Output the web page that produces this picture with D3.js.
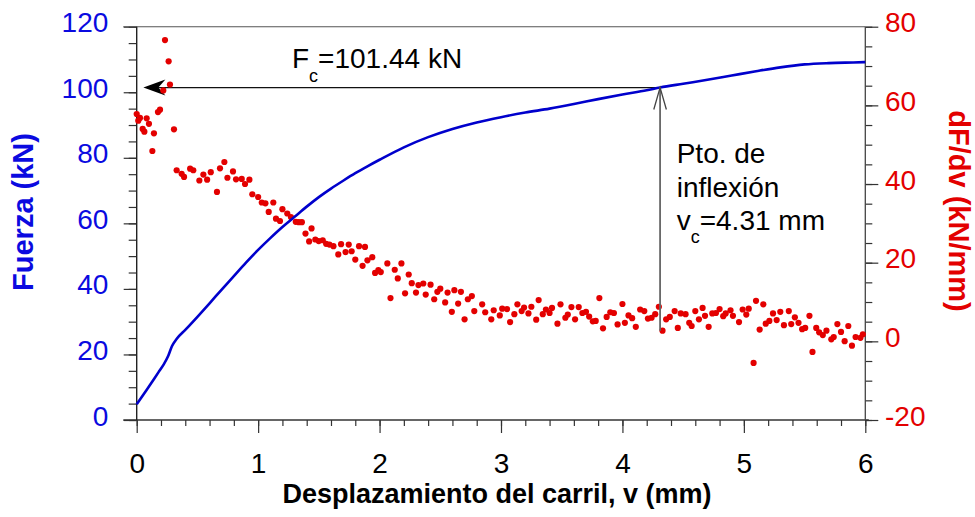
<!DOCTYPE html>
<html><head><meta charset="utf-8">
<script src="https://cdn.jsdelivr.net/npm/d3@7"></script>
<style>body{margin:0;background:#fff} text{font-family:"Liberation Sans",Arial,Helvetica,sans-serif}</style>
</head><body>
<svg id="c" width="975" height="517"></svg>
<script>
// ---- data ----
const forceX = [0,0.08,0.18,0.22,0.26,0.29,0.33,0.40,0.50,0.60,0.70,0.80,0.90,1.0,1.1,1.2,1.3,1.4,1.5,1.6,1.7,1.8,1.9,2.0,2.2,2.4,2.6,2.8,3.0,3.2,3.4,3.6,3.8,4.0,4.2,4.31,4.5,4.7,4.9,5.1,5.3,5.5,5.7,5.9,6.0];
const forceY = [4.8,9.1,14.6,16.8,19.6,22.5,24.8,27.5,31.5,35.6,39.8,43.9,48.0,51.9,55.5,58.9,62.0,65.1,68.0,70.6,73.0,75.3,77.4,79.4,83.2,86.3,88.8,90.8,92.4,93.8,95.0,96.4,97.9,99.3,100.6,101.44,102.6,103.8,105.1,106.4,107.6,108.5,108.9,109.1,109.2];

const derivX = [0.0,0.013,0.027,0.049,0.063,0.082,0.101,0.129,0.142,0.175,0.192,0.219,0.233,0.263,0.274,0.307,0.329,0.37,0.39,0.44,0.466,0.516,0.549,0.58,0.61,0.661,0.686,0.722,0.747,0.793,0.818,0.865,0.892,0.928,0.952,1.0,1.03,1.06,1.087,1.125,1.147,1.18,1.20,1.24,1.27,1.31,1.335,1.36,1.39,1.42,1.44,1.471,1.499,1.532,1.56,1.587,1.62,1.66,1.683,1.72,1.746,1.77,1.80,1.831,1.86,1.88,1.90,1.94,1.963,1.99,2.01,2.064,2.09,2.125,2.15,2.18,2.21,2.24,2.265,2.30,2.32,2.36,2.38,2.42,2.45,2.476,2.50,2.54,2.56,2.595,2.616,2.647,2.67,2.70,2.727,2.76,2.78,2.845,2.87,2.92,2.94,2.99,3.01,3.05,3.075,3.11,3.135,3.17,3.19,3.226,3.25,3.29,3.31,3.344,3.37,3.40,3.42,3.465,3.49,3.53,3.55,3.58,3.61,3.64,3.67,3.70,3.726,3.756,3.78,3.81,3.84,3.87,3.90,3.93,3.96,4.0,4.02,4.05,4.08,4.11,4.146,4.18,4.21,4.24,4.27,4.30,4.33,4.36,4.39,4.43,4.456,4.48,4.52,4.55,4.57,4.60,4.63,4.66,4.68,4.71,4.74,4.77,4.80,4.83,4.85,4.89,4.91,4.96,4.99,5.02,5.04,5.08,5.10,5.13,5.16,5.18,5.21,5.24,5.27,5.30,5.33,5.37,5.39,5.42,5.45,5.48,5.505,5.54,5.565,5.596,5.62,5.65,5.68,5.72,5.74,5.77,5.80,5.83,5.86,5.89,5.92,5.96,5.98];
const derivY = [57.8,56.1,56.8,54.0,53.3,56.7,55.3,48.4,52.9,58.3,58.9,63.8,76.6,71.2,65.3,53.9,43.5,42.6,41.8,43.9,43.5,40.9,42.4,41.1,43.0,38.0,44.0,45.6,41.6,43.2,41.2,41.3,40.0,41.1,37.4,36.7,35.3,35.1,32.9,35.3,31.2,30.6,33.6,32.5,31.6,30.4,30.3,30.3,27.4,25.4,28.7,25.9,25.5,25.7,24.8,24.6,24.2,22.1,24.7,22.7,24.6,22.9,20.8,24.2,19.2,24.0,20.6,21.4,17.4,18.1,17.6,19.8,11.0,18.2,16.0,19.8,12.2,17.0,14.8,12.4,14.3,14.7,11.9,14.4,10.7,12.6,13.4,9.9,12.4,7.5,13.0,9.6,12.6,5.6,10.7,11.5,7.7,9.4,7.4,5.6,7.9,6.6,8.3,8.2,4.9,6.9,9.4,7.7,8.6,7.1,8.8,5.5,10.5,6.9,8.1,7.2,8.5,4.5,9.4,6.0,6.8,8.7,5.6,8.7,7.2,7.5,6.3,5.1,5.2,11.0,3.3,6.2,7.4,7.2,4.3,9.5,4.7,6.6,5.9,3.7,8.1,7.7,5.8,6.0,6.9,8.8,2.7,5.6,6.2,7.7,3.4,7.1,6.9,4.7,3.9,7.7,5.6,8.5,6.5,3.7,7.1,7.2,8.2,6.4,7.1,7.9,6.5,4.9,8.1,6.8,8.3,-5.5,10.3,3.0,9.4,4.5,5.2,7.1,5.4,7.5,4.1,7.7,4.4,6.1,4.7,3.1,3.4,6.5,-2.7,3.4,2.3,1.6,2.7,0.5,1.1,4.4,2.4,0.05,3.9,-1.1,1.1,0.9,1.8];

const xTicks = [0,1,2,3,4,5,6];
const leftTicks = [0,20,40,60,80,100,120];
const rightTicks = [-20,0,20,40,60,80];
const xLabel = "Desplazamiento del carril, v (mm)";
const leftLabel = "Fuerza (kN)";
const rightLabel = "dF/dv (kN/mm)";
const Fc = 101.44, vc = 4.31, arrowTipX = 0.055, vertBottom = 2.7;

// ---- layout ----
const L = 136.7, R = 865.3, T = 26.7, B = 420;
const BLUE = "#0000cc", BLUE_T = "#0a0ae0", RED = "#e30000";
const FONT = '"Liberation Sans",Arial,sans-serif';
const svg = d3.select("#c");
const x = d3.scaleLinear().domain([0,6]).range([L,R]);
const yL = d3.scaleLinear().domain([0,120]).range([B,T]);
const yR = d3.scaleLinear().domain([-20,80]).range([B,T]);
const plain = d => String(d);

function styleAxis(g){ g.select(".domain").remove(); g.selectAll("line").attr("stroke","#333").attr("stroke-width",1.2); }

// minor ticks
svg.append("g").attr("transform",`translate(0,${B})`)
  .call(d3.axisBottom(x).tickValues(d3.range(0,6.01,0.2)).tickSize(6).tickFormat(""))
  .call(styleAxis);
svg.append("g").attr("transform",`translate(${L},0)`)
  .call(d3.axisLeft(yL).tickValues(d3.range(0,120.1,5)).tickSize(8).tickFormat(""))
  .call(styleAxis);
svg.append("g").attr("transform",`translate(${R},0)`)
  .call(d3.axisRight(yR).tickValues(d3.range(-20,80.1,5)).tickSize(7).tickFormat(""))
  .call(styleAxis);

// major ticks
const gx = svg.append("g").attr("transform",`translate(0,${B})`)
  .call(d3.axisBottom(x).tickValues(xTicks).tickSize(13).tickPadding(20).tickFormat(plain))
  .call(styleAxis);
gx.selectAll("text").attr("font-size",28).attr("fill","#000").style("font-family",FONT);

const gl = svg.append("g").attr("transform",`translate(${L},0)`)
  .call(d3.axisLeft(yL).tickValues(leftTicks).tickSize(13).tickPadding(15.4).tickFormat(plain))
  .call(styleAxis);
gl.selectAll("text").attr("font-size",28).attr("fill",BLUE_T).attr("dy","0.18em").style("font-family",FONT);

const gr = svg.append("g").attr("transform",`translate(${R},0)`)
  .call(d3.axisRight(yR).tickValues(rightTicks).tickSize(13).tickPadding(6.7).tickFormat(plain))
  .call(styleAxis);
gr.selectAll("text").attr("font-size",28).attr("fill",RED).attr("dy","0.18em").style("font-family",FONT);

// frame lines
svg.append("line").attr("x1",L-13.4).attr("x2",R).attr("y1",T).attr("y2",T).attr("stroke","#555").attr("stroke-width",1.1);
svg.append("line").attr("x1",L-13.4).attr("x2",R+3.5).attr("y1",B).attr("y2",B).attr("stroke","#333").attr("stroke-width",1.3);
svg.append("line").attr("x1",L).attr("x2",L).attr("y1",T).attr("y2",B).attr("stroke","#222").attr("stroke-width",1.4);
svg.append("line").attr("x1",R).attr("x2",R).attr("y1",T).attr("y2",B).attr("stroke","#444").attr("stroke-width",1.3);

// horizontal arrow
const hy = yL(Fc), tipX = x(arrowTipX);
svg.append("line").attr("x1",tipX+12).attr("x2",x(vc)).attr("y1",hy).attr("y2",hy).attr("stroke","#111").attr("stroke-width",1.3);
svg.append("path").attr("d",`M${tipX},${hy} L${tipX+22},${hy-8} L${tipX+15},${hy} L${tipX+22},${hy+8} Z`).attr("fill","#000");

// dots
svg.append("g").selectAll("circle").data(derivX.map((d,i)=>[d,derivY[i]])).join("circle")
  .attr("cx",d=>x(d[0])).attr("cy",d=>yR(d[1])).attr("r",3.1).attr("fill",RED);

// blue curve
svg.append("path").datum(forceX.map((d,i)=>[d,forceY[i]]))
  .attr("d",d3.line().x(d=>x(d[0])).y(d=>yL(d[1])).curve(d3.curveMonotoneX))
  .attr("fill","none").attr("stroke",BLUE).attr("stroke-width",2.6);

// vertical arrow
const vx = x(vc);
svg.append("line").attr("x1",vx).attr("x2",vx).attr("y1",hy).attr("y2",yR(vertBottom)).attr("stroke","#666").attr("stroke-width",1.8);
svg.append("path").attr("d",`M${vx-6.3},${hy+22} L${vx},${hy} L${vx+6.3},${hy+22}`).attr("fill","none").attr("stroke","#444").attr("stroke-width",1.3);

// annotations
const t1 = svg.append("text").attr("x",292).attr("y",68).attr("font-size",28).attr("fill","#000");
t1.append("tspan").text("F");
t1.append("tspan").attr("font-size",18).attr("dy",14).text("c");
t1.append("tspan").attr("dy",-14).text("=101.44 kN");

const ax = 676.7;
svg.append("text").attr("x",ax).attr("y",163).attr("font-size",28).attr("fill","#000").text("Pto. de");
svg.append("text").attr("x",ax).attr("y",197).attr("font-size",28).attr("fill","#000").text("inflexión");
const t2 = svg.append("text").attr("x",ax).attr("y",230).attr("font-size",28).attr("fill","#000");
t2.append("tspan").text("v");
t2.append("tspan").attr("font-size",18).attr("dy",13).text("c");
t2.append("tspan").attr("dy",-13).text("=4.31 mm");

// axis titles
svg.append("text").attr("x",497).attr("y",503).attr("text-anchor","middle").attr("font-size",27).attr("font-weight","bold").attr("fill","#000").text(xLabel);
svg.append("text").attr("transform","translate(33,212) rotate(-90)").attr("text-anchor","middle").attr("font-size",29).attr("font-weight","bold").attr("fill",BLUE_T).text(leftLabel);
svg.append("text").attr("transform","translate(949,211) rotate(90)").attr("text-anchor","middle").attr("font-size",29).attr("font-weight","bold").attr("fill",RED).text(rightLabel);
</script>
</body></html>
